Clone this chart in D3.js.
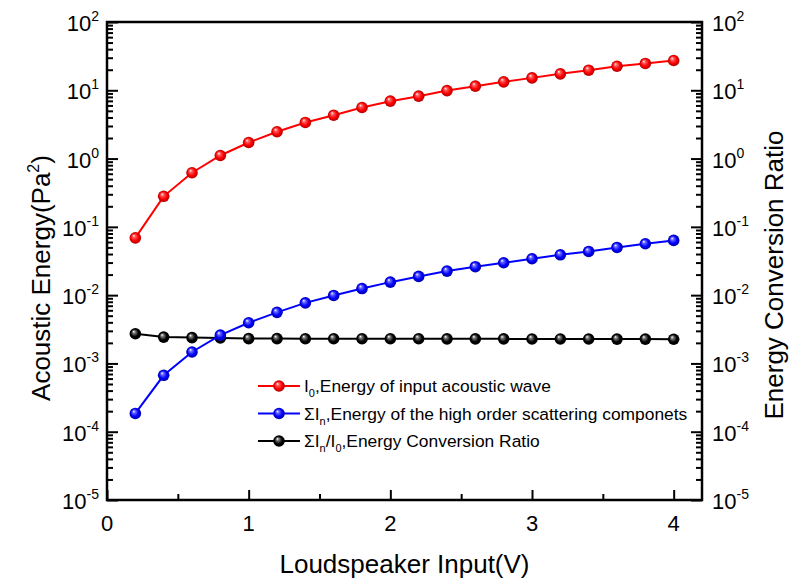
<!DOCTYPE html>
<html>
<head>
<meta charset="utf-8">
<script src="https://cdn.jsdelivr.net/npm/d3@7"></script>
<style>
  html, body { margin: 0; padding: 0; background: #fff; }
  svg { display: block; }
  svg text { font-family: "Liberation Sans", Arial, sans-serif; fill: #000; }
</style>
</head>
<body>
<div id="chart"></div>
<script>
// Loudspeaker input voltage (V)
const inputVolts = [0.2, 0.4, 0.6, 0.8, 1.0, 1.2, 1.4, 1.6, 1.8, 2.0,
                    2.2, 2.4, 2.6, 2.8, 3.0, 3.2, 3.4, 3.6, 3.8, 4.0];
// I0, energy of input acoustic wave (Pa^2)
const inputEnergy = [0.069, 0.28, 0.62, 1.11, 1.72, 2.47, 3.38, 4.32, 5.6, 6.93,
                     8.2, 9.9, 11.5, 13.3, 15.2, 17.4, 19.7, 22.5, 24.7, 27.3];
// sum In, energy of the high order scattering components (Pa^2)
const scatterEnergy = [1.85e-4, 6.7e-4, 1.47e-3, 2.6e-3, 3.94e-3, 5.6e-3, 7.7e-3, 9.9e-3, 0.0125, 0.0155,
                       0.0188, 0.0225, 0.0261, 0.0298, 0.0341, 0.039, 0.0436, 0.0499, 0.0566, 0.0633];
// sum In / I0, energy conversion ratio
const conversionRatio = [2.72e-3, 2.43e-3, 2.39e-3, 2.36e-3, 2.31e-3, 2.31e-3, 2.30e-3, 2.30e-3, 2.30e-3, 2.30e-3,
                         2.30e-3, 2.29e-3, 2.29e-3, 2.29e-3, 2.28e-3, 2.28e-3, 2.28e-3, 2.27e-3, 2.27e-3, 2.26e-3];

const xTicks = [0, 1, 2, 3, 4];
const xMinorTicks = [0.5, 1.5, 2.5, 3.5];
const decadeExps = [-5, -4, -3, -2, -1, 0, 1, 2];

const width = 792, height = 583;
const margin = { top: 22, right: 90, bottom: 83, left: 107 };
const innerWidth = width - margin.left - margin.right;
const innerHeight = height - margin.top - margin.bottom;

const svg = d3.select("#chart").append("svg")
    .attr("width", width)
    .attr("height", height);

const defs = svg.append("defs");

// sphere-like marker fills
function sphereGradient(id, base, light, dark) {
    const g = defs.append("radialGradient")
        .attr("id", id)
        .attr("cx", "0.5").attr("cy", "0.5").attr("r", "0.5")
        .attr("fx", "0.35").attr("fy", "0.3");
    g.append("stop").attr("offset", "0%").attr("stop-color", "#ffffff");
    g.append("stop").attr("offset", "25%").attr("stop-color", light);
    g.append("stop").attr("offset", "65%").attr("stop-color", base);
    g.append("stop").attr("offset", "100%").attr("stop-color", dark);
}
sphereGradient("ballRed", "#ff0000", "#ff6060", "#b00000");
sphereGradient("ballBlue", "#0000ff", "#6a6aff", "#0000a8");
sphereGradient("ballBlack", "#000000", "#777777", "#000000");

const x = d3.scaleLinear().domain([0, 4.2]).range([margin.left, margin.left + innerWidth]);
const y = d3.scaleLog().domain([1e-5, 1e2]).range([margin.top + innerHeight, margin.top]);

// text made of pieces (super/subscripts), each piece its own <text>
// placed in page coordinates; optional rotation about (x, y)
function richText(x0, y0, parts, anchor, angle) {
    const nodes = parts.map(p => svg.append("text")
        .attr("font-size", p.size)
        .text(p.t));
    const widths = nodes.map(n => n.node().getComputedTextLength());
    const total = d3.sum(widths);
    let cx = x0;
    if (anchor === "end") cx = x0 - total;
    if (anchor === "middle") cx = x0 - total / 2;
    nodes.forEach((n, i) => {
        n.attr("x", cx).attr("y", y0 + (parts[i].dy || 0));
        if (angle) n.attr("transform", `rotate(${angle},${x0},${y0})`);
        cx += widths[i];
    });
}

// minor log ticks 2..9 within each decade
const yMinor = [];
decadeExps.slice(0, -1).forEach(e => {
    for (let k = 2; k <= 9; k++) yMinor.push(k * Math.pow(10, e));
});
const yMajor = decadeExps.map(e => Math.pow(10, e));

function styleAxis(g) {
    g.select(".domain").remove();
    g.selectAll("line").attr("stroke", "#000").attr("stroke-width", 2);
    g.selectAll("text").remove();
}

const xBase = margin.top + innerHeight;
const xRight = margin.left + innerWidth;

// bottom axis (ticks point inward)
svg.append("g")
    .attr("transform", `translate(0,${xBase})`)
    .call(d3.axisBottom(x).tickValues(xTicks).tickSize(-10).tickSizeOuter(0))
    .call(styleAxis);
svg.append("g")
    .attr("transform", `translate(0,${xBase})`)
    .call(d3.axisBottom(x).tickValues(xMinorTicks).tickSize(-6).tickSizeOuter(0))
    .call(styleAxis);

// left and right axes
[[d3.axisLeft, margin.left], [d3.axisRight, xRight]].forEach(([axisFn, tx]) => {
    svg.append("g")
        .attr("transform", `translate(${tx},0)`)
        .call(axisFn(y).tickValues(yMajor).tickSize(-11).tickSizeOuter(0))
        .call(styleAxis);
    svg.append("g")
        .attr("transform", `translate(${tx},0)`)
        .call(axisFn(y).tickValues(yMinor).tickSize(-6).tickSizeOuter(0))
        .call(styleAxis);
});

// frame
svg.append("rect")
    .attr("x", margin.left)
    .attr("y", margin.top)
    .attr("width", innerWidth)
    .attr("height", innerHeight)
    .attr("fill", "none")
    .attr("stroke", "#000")
    .attr("stroke-width", 2.5);

// x tick labels
svg.selectAll(".x-label")
    .data(xTicks)
    .join("text")
    .attr("class", "x-label")
    .attr("x", d => x(d))
    .attr("y", xBase + 31)
    .attr("text-anchor", "middle")
    .attr("font-size", 22)
    .text(d => d);

// y tick labels as 10^n on both sides
decadeExps.forEach(e => {
    const ty = y(Math.pow(10, e)) + 9;
    const parts = [{ t: "10", size: 22 }, { t: String(e), size: 14, dy: -10 }];
    richText(margin.left - 8, ty, parts, "end");
    richText(xRight + 10, ty, parts, "start");
});

// axis titles
svg.append("text")
    .attr("x", margin.left + innerWidth / 2)
    .attr("y", 573)
    .attr("text-anchor", "middle")
    .attr("font-size", 26)
    .text("Loudspeaker Input(V)");

richText(50, 278, [
    { t: "Acoustic Energy(Pa", size: 26 },
    { t: "2", size: 16, dy: -11 },
    { t: ")", size: 26 }
], "middle", -90);

svg.append("text")
    .attr("x", 783)
    .attr("y", 275)
    .attr("transform", "rotate(-90,783,275)")
    .attr("text-anchor", "middle")
    .attr("font-size", 26)
    .text("Energy Conversion Ratio");

// series, black drawn first so the blue balls sit on top
const series = [
    { values: conversionRatio, color: "#000000", fill: "url(#ballBlack)" },
    { values: scatterEnergy, color: "#0000ff", fill: "url(#ballBlue)" },
    { values: inputEnergy, color: "#ff0000", fill: "url(#ballRed)" }
];

const line = d3.line()
    .x((d, i) => x(inputVolts[i]))
    .y(d => y(d));

series.forEach(s => {
    svg.append("path")
        .datum(s.values)
        .attr("fill", "none")
        .attr("stroke", s.color)
        .attr("stroke-width", 2)
        .attr("d", line);

    svg.append("g").selectAll("circle")
        .data(s.values)
        .join("circle")
        .attr("cx", (d, i) => x(inputVolts[i]))
        .attr("cy", d => y(d))
        .attr("r", 5.8)
        .attr("fill", s.fill);
});

// legend
const legendItems = [
    { color: "#ff0000", fill: "url(#ballRed)",
      parts: [["I", 0], ["0", 1], [",Energy of input acoustic wave", 0]] },
    { color: "#0000ff", fill: "url(#ballBlue)",
      parts: [["\u03A3I", 0], ["n", 1], [",Energy of the high order scattering componets", 0]] },
    { color: "#000000", fill: "url(#ballBlack)",
      parts: [["\u03A3I", 0], ["n", 1], ["/I", 0], ["0", 1], [",Energy Conversion Ratio", 0]] }
];

const legendX = 258, legendY = 386;
legendItems.forEach((item, i) => {
    const ry = legendY + i * 27.5;
    svg.append("line")
        .attr("x1", legendX).attr("x2", legendX + 42)
        .attr("y1", ry).attr("y2", ry)
        .attr("stroke", item.color)
        .attr("stroke-width", 2);
    svg.append("circle")
        .attr("cx", legendX + 21).attr("cy", ry).attr("r", 5.8)
        .attr("fill", item.fill);
    richText(legendX + 46, ry + 6, item.parts.map(([t, sub]) => ({
        t: t,
        size: sub ? 11 : 17.4,
        dy: sub ? 5 : 0
    })), "start");
});
</script>
</body>
</html>
